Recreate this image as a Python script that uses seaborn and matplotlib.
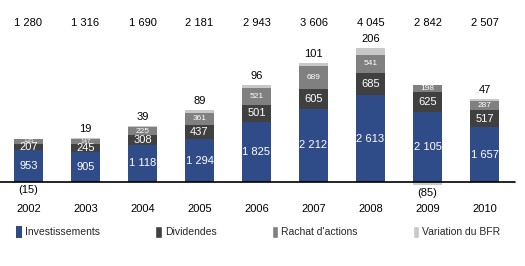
import numpy as np
import pandas as pd
import matplotlib
matplotlib.use('Agg')
import matplotlib.pyplot as plt
import seaborn as sns
from matplotlib.patches import Patch

years = ['2002', '2003', '2004', '2005', '2006', '2007', '2008', '2009', '2010']
investissements = [953, 905, 1118, 1294, 1825, 2212, 2613, 2105, 1657]
dividendes = [207, 245, 308, 437, 501, 605, 685, 625, 517]
rachat = [135, 147, 225, 361, 521, 689, 541, 198, 287]
bfr = [-15, 19, 39, 89, 96, 101, 206, -85, 47]
totals = ['1 280', '1 316', '1 690', '2 181', '2 943', '3 606', '4 045', '2 842', '2 507']

c_inv = '#2F4C88'
c_div = '#404040'
c_rach = '#808080'
c_bfr = '#C8C8C8'

sns.set_theme(style='white')
plt.rcParams['font.family'] = ['Liberation Sans', 'DejaVu Sans']
plt.rcParams['hatch.color'] = '#4A68A8'
plt.rcParams['hatch.linewidth'] = 0.6

df = pd.DataFrame({'year': years, 'inv': investissements, 'div': dividendes,
                   'rachat': rachat, 'bfr': bfr})

fig = plt.figure(figsize=(5.25, 2.66), dpi=100)
ax = fig.add_axes([0, 0, 1, 1])

w = 0.51
x = np.arange(len(years))
sns.barplot(data=df, x='year', y='inv', color=c_inv, saturation=1, width=w,
            ax=ax, edgecolor=c_inv, linewidth=0, hatch='....')
inv = df['inv'].values
div = df['div'].values
rach = df['rachat'].values
b = df['bfr'].values
ax.bar(x, div, bottom=inv, width=w, color=c_div, linewidth=0)
ax.bar(x, rach, bottom=inv + div, width=w, color=c_rach, linewidth=0)
top = inv + div + rach
bfr_bottom = np.where(b > 0, top, 0)
ax.bar(x, b, bottom=bfr_bottom, width=w, color=c_bfr, linewidth=0)

# scale: baseline at 182 px from top, ~30.2 units per pixel
upp = 30.2
ax.set_xlim(-0.5, (525 - 28.5) / 57)
ax.set_ylim(-(266 - 182) * upp, 182 * upp)
ax.axis('off')
ax.plot([-0.5, (515 - 28.5) / 57], [0, 0], color='black', lw=1.2, zorder=5)

fs = 8
for i in range(len(years)):
    ax.text(i, inv[i] / 2, f"{inv[i]:,}".replace(',', ' '), color='white',
            ha='center', va='center', fontsize=fs)
    ax.text(i, inv[i] + div[i] / 2, str(div[i]), color='white',
            ha='center', va='center', fontsize=fs)
    small = 4.5 if rach[i] < 160 else 6
    ax.text(i, inv[i] + div[i] + rach[i] / 2 + (25 if i == 0 else 0), str(rach[i]),
            color='white', ha='center', va='center', fontsize=small)
    if b[i] > 0:
        ax.text(i, top[i] + b[i] + 4 * upp, str(b[i]), ha='center', va='bottom',
                fontsize=fs, color='black')
    else:
        ax.text(i, b[i] - 3 * upp, f"({-b[i]})", ha='center', va='top',
                fontsize=fs, color='black')
    ax.text(i, (182 - 23) * upp, totals[i], ha='center', va='center',
            fontsize=fs, color='black')
    ax.text(i, -(209 - 182) * upp, years[i], ha='center', va='center',
            fontsize=fs, color='black')

handles = [Patch(facecolor=c_inv, hatch='....', edgecolor=c_inv, linewidth=0),
           Patch(facecolor=c_div), Patch(facecolor=c_rach), Patch(facecolor=c_bfr)]
labels = ['Investissements', 'Dividendes', "Rachat d'actions", 'Variation du BFR']
fig.legend(handles, labels, ncol=4, loc='center left', bbox_to_anchor=(0.03, 1 - 232 / 266),
           frameon=False, fontsize=7.5, handlelength=0.6, handleheight=1.3,
           handletextpad=0.3, columnspacing=5.3, borderaxespad=0, borderpad=0)

fig.savefig('out.png', dpi=100)
